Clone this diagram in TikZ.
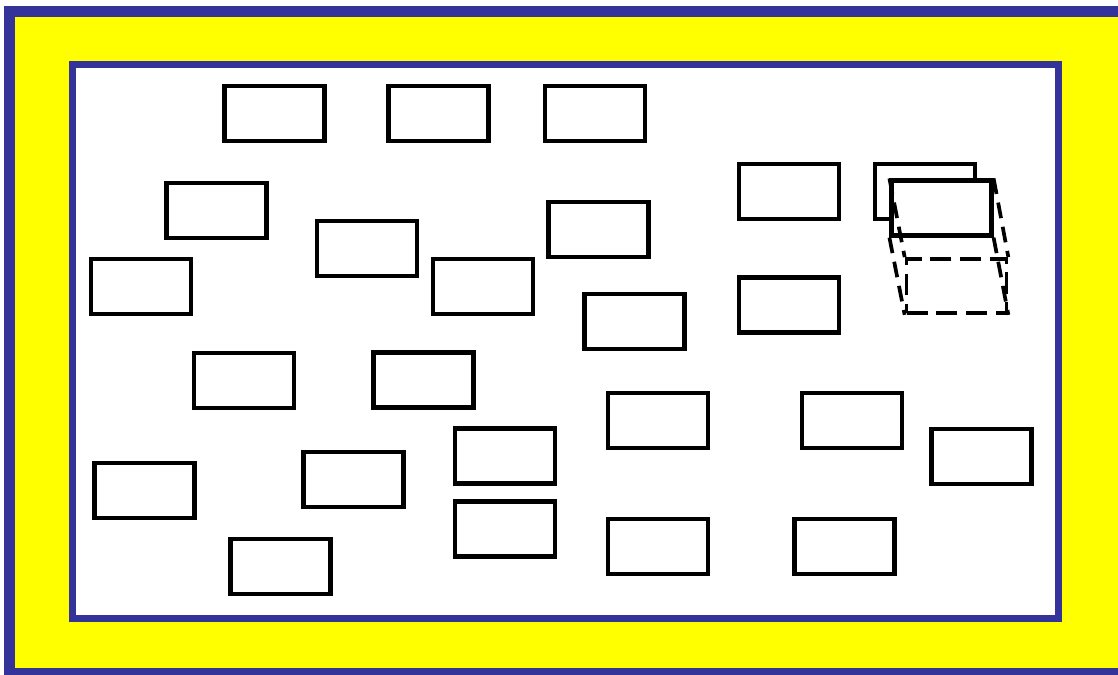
\documentclass[tikz,border=0pt]{standalone}
\usepackage{xcolor}
\usepackage{tikz}
\usetikzlibrary{positioning}

\definecolor{frameblue}{HTML}{333399}
\definecolor{frameyellow}{RGB}{255,255,0}

\begin{document}
\begin{tikzpicture}[
    x=0.02cm, y=-0.02cm,
    frame/.style={draw=frameblue, line width=6.2pt, fill=frameyellow},
    pane/.style={draw=frameblue, line width=4pt, fill=white},
    slot/.style={draw=black, line width=2.4pt, fill=white, minimum width=2.0cm,
      minimum height=1.1cm, inner sep=0pt},
    ghost/.style={draw=black, line width=2.1pt, dash pattern=on 12pt off 5pt,
      minimum width=2.0cm, minimum height=1.08cm, inner sep=0pt},
    ghostline/.style={black, line width=2.1pt, dash pattern=on 9pt off 5pt}
  ]
    \useasboundingbox (0,0) rectangle (1118,675);
    \clip (0,0) rectangle (1118,675);
    % frames
    \draw[frame] (9.5,11.5) rectangle (1160,673.5);
    \draw[pane] (72.5,64.5) rectangle (1058.5,618.5);

    % top row
    \node[slot] (b1) at (274.5,113.5) {};
    \node[slot] (b2) at (438.5,113.5) {};
    \node[slot] (b3) at (595,113.5) {};

    \node[slot] (b4) at (216.5,210.5) {};
    \node[slot] (b5) at (367,248.5) {};
    \node[slot] (b6) at (598.5,229.5) {};
    \node[slot] (b7) at (789,191.5) {};
    \node[slot] (b8) at (141,286.5) {};
    \node[slot] (b9) at (483,286.5) {};
    \node[slot] (b10) at (634.5,321.5) {};
    \node[slot] (b11) at (789,305) {};

    \node[slot] (b12) at (244,380.5) {};
    \node[slot] (b13) at (423.5,380) {};
    \node[slot] (b14) at (658,420.5) {};
    \node[slot] (b15) at (852,420.5) {};
    \node[slot] (b16) at (981.5,456.5) {};
    \node[slot] (b17) at (505,456) {};

    % bottom rows
    \node[slot] (b18) at (144.5,490.5) {};
    \node[slot] (b19) at (353.5,479.5) {};
    \node[slot] (b20) at (505,529) {};
    \node[slot] (b21) at (658,546.5) {};
    \node[slot] (b22) at (844.5,546.5) {};
    \node[slot] (b23) at (280.5,566.5) {};

    % moved box with its shadow
    \node[ghost] (shadow) at (956.5,286) {};
    \node[slot] (back) at (925,191.5) {};
    \node[slot] (front) at (941.5,208) {};

    \draw[ghostline] (front.north west) -- (shadow.north west);
    \draw[ghostline] (front.south west) -- (shadow.south west);
    \draw[ghostline] (front.north east) -- (shadow.north east);
    \draw[ghostline] (front.south east) -- (shadow.south east);
  \end{tikzpicture}
\end{document}
